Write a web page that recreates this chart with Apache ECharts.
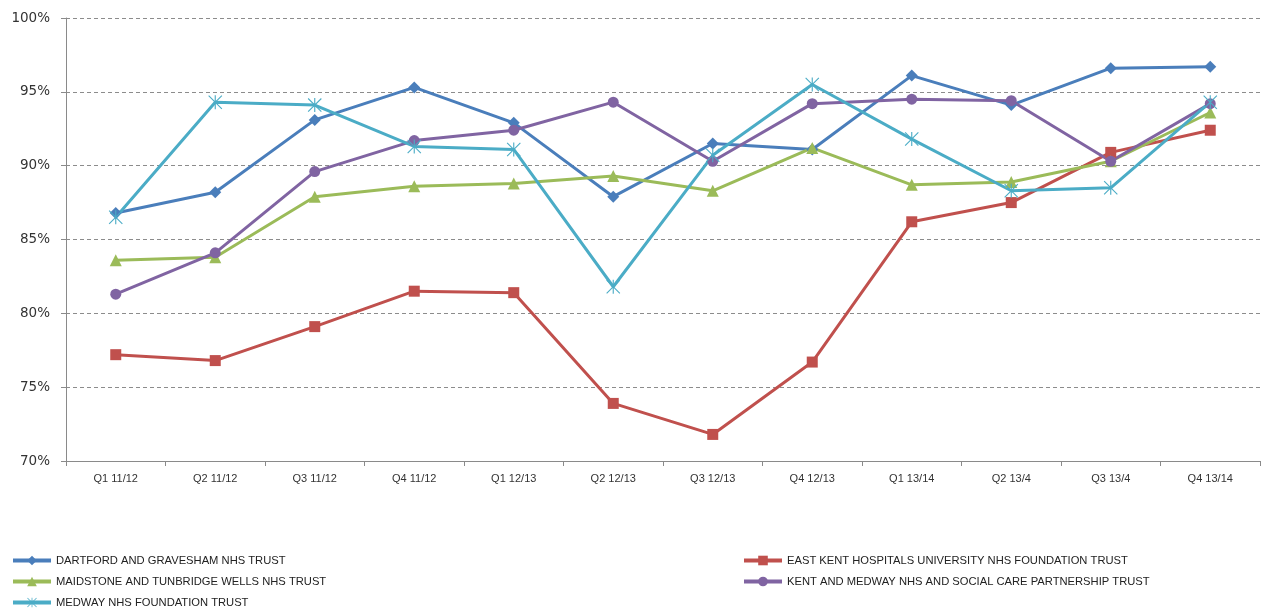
<!DOCTYPE html>
<html>
<head>
<meta charset="utf-8">
<script src="https://cdn.jsdelivr.net/npm/echarts@6/dist/echarts.min.js"></script>
<style>
  html, body { margin: 0; padding: 0; background: #fff; }
  #chart { width: 1264px; height: 615px; }
</style>
</head>
<body>
<div id="chart"></div>
<script>
// Quarterly performance (%) by trust
const quarters = ['Q1 11/12', 'Q2 11/12', 'Q3 11/12', 'Q4 11/12', 'Q1 12/13', 'Q2 12/13',
                  'Q3 12/13', 'Q4 12/13', 'Q1 13/14', 'Q2 13/4', 'Q3 13/4', 'Q4 13/14'];

const dartford   = [86.8, 88.2, 93.1, 95.3, 92.9, 87.9, 91.5, 91.1, 96.1, 94.1, 96.6, 96.7];
const eastKent   = [77.2, 76.8, 79.1, 81.5, 81.4, 73.9, 71.8, 76.7, 86.2, 87.5, 90.9, 92.4];
const maidstone  = [83.6, 83.8, 87.9, 88.6, 88.8, 89.3, 88.3, 91.2, 88.7, 88.9, 90.3, 93.6];
const kentMedway = [81.3, 84.1, 89.6, 91.7, 92.4, 94.3, 90.3, 94.2, 94.5, 94.4, 90.3, 94.2];
const medway     = [86.5, 94.3, 94.1, 91.3, 91.1, 81.8, 90.7, 95.5, 91.8, 88.3, 88.5, 94.3];

const yTicks = { min: 70, max: 100, step: 5 };

const names = {
  dartford:   'DARTFORD AND GRAVESHAM NHS TRUST',
  eastKent:   'EAST KENT HOSPITALS UNIVERSITY NHS FOUNDATION TRUST',
  maidstone:  'MAIDSTONE AND TUNBRIDGE WELLS NHS TRUST',
  kentMedway: 'KENT AND MEDWAY NHS AND SOCIAL CARE PARTNERSHIP TRUST',
  medway:     'MEDWAY NHS FOUNDATION TRUST'
};

// asterisk marker: vertical bar plus an X, built from thin filled bars
const asterisk = 'path://M9.2,0L10.8,0L10.8,20L9.2,20Z M0,1.1L1.1,0L20,18.9L18.9,20Z M18.9,0L20,1.1L1.1,20L0,18.9Z';

function lineSeries(name, data, color, symbol, size) {
  return {
    name, type: 'line', data,
    symbol, symbolSize: size,
    lineStyle: { color, width: 3 },
    itemStyle: { color },
    emphasis: { disabled: true },
    z: 2
  };
}

// one legend block per entry, laid out in two columns
function legendEntry(name, left, top) {
  return {
    orient: 'vertical', left, top, padding: 0,
    itemWidth: 38, itemHeight: 12, itemGap: 0,
    lineStyle: { width: 4 },
    textStyle: { fontFamily: 'Liberation Sans', fontSize: 11.2, color: '#222' },
    data: [name]
  };
}

const option = {
  animation: false,
  backgroundColor: '#fff',
  grid: { left: 66, right: 4, top: 18, bottom: 154 },
  xAxis: {
    type: 'category',
    data: quarters,
    boundaryGap: true,
    axisLine: { lineStyle: { color: '#8a8a8a', width: 1 } },
    axisTick: { show: true, length: 5, lineStyle: { color: '#8a8a8a' } },
    axisLabel: { fontFamily: 'Liberation Sans', fontSize: 11, color: '#333', margin: 12 }
  },
  yAxis: {
    type: 'value',
    min: yTicks.min, max: yTicks.max, interval: yTicks.step,
    axisLine: { show: true, lineStyle: { color: '#8a8a8a', width: 1 } },
    axisTick: { show: true, length: 5, lineStyle: { color: '#8a8a8a' } },
    axisLabel: { fontFamily: 'DejaVu Sans', fontSize: 13.5, color: '#333', margin: 16, formatter: '{value}%' },
    splitLine: { show: true, lineStyle: { color: '#8c8c8c', type: [4, 3], width: 1 } }
  },
  legend: [
    legendEntry(names.dartford,   11,  555),
    legendEntry(names.maidstone,  11,  576),
    legendEntry(names.medway,     11,  597),
    legendEntry(names.eastKent,   742, 555),
    legendEntry(names.kentMedway, 742, 576)
  ],
  series: [
    lineSeries(names.dartford,   dartford,   '#4a7ebb', 'diamond',  12),
    lineSeries(names.eastKent,   eastKent,   '#c0504d', 'rect',      11),
    lineSeries(names.maidstone,  maidstone,  '#9bbb59', 'triangle', 12),
    lineSeries(names.kentMedway, kentMedway, '#8064a2', 'circle',   11),
    lineSeries(names.medway,     medway,     '#4bacc6', asterisk,   14)
  ]
};

const chart = echarts.init(document.getElementById('chart'), null, { renderer: 'canvas' });
chart.setOption(option);
</script>
</body>
</html>
